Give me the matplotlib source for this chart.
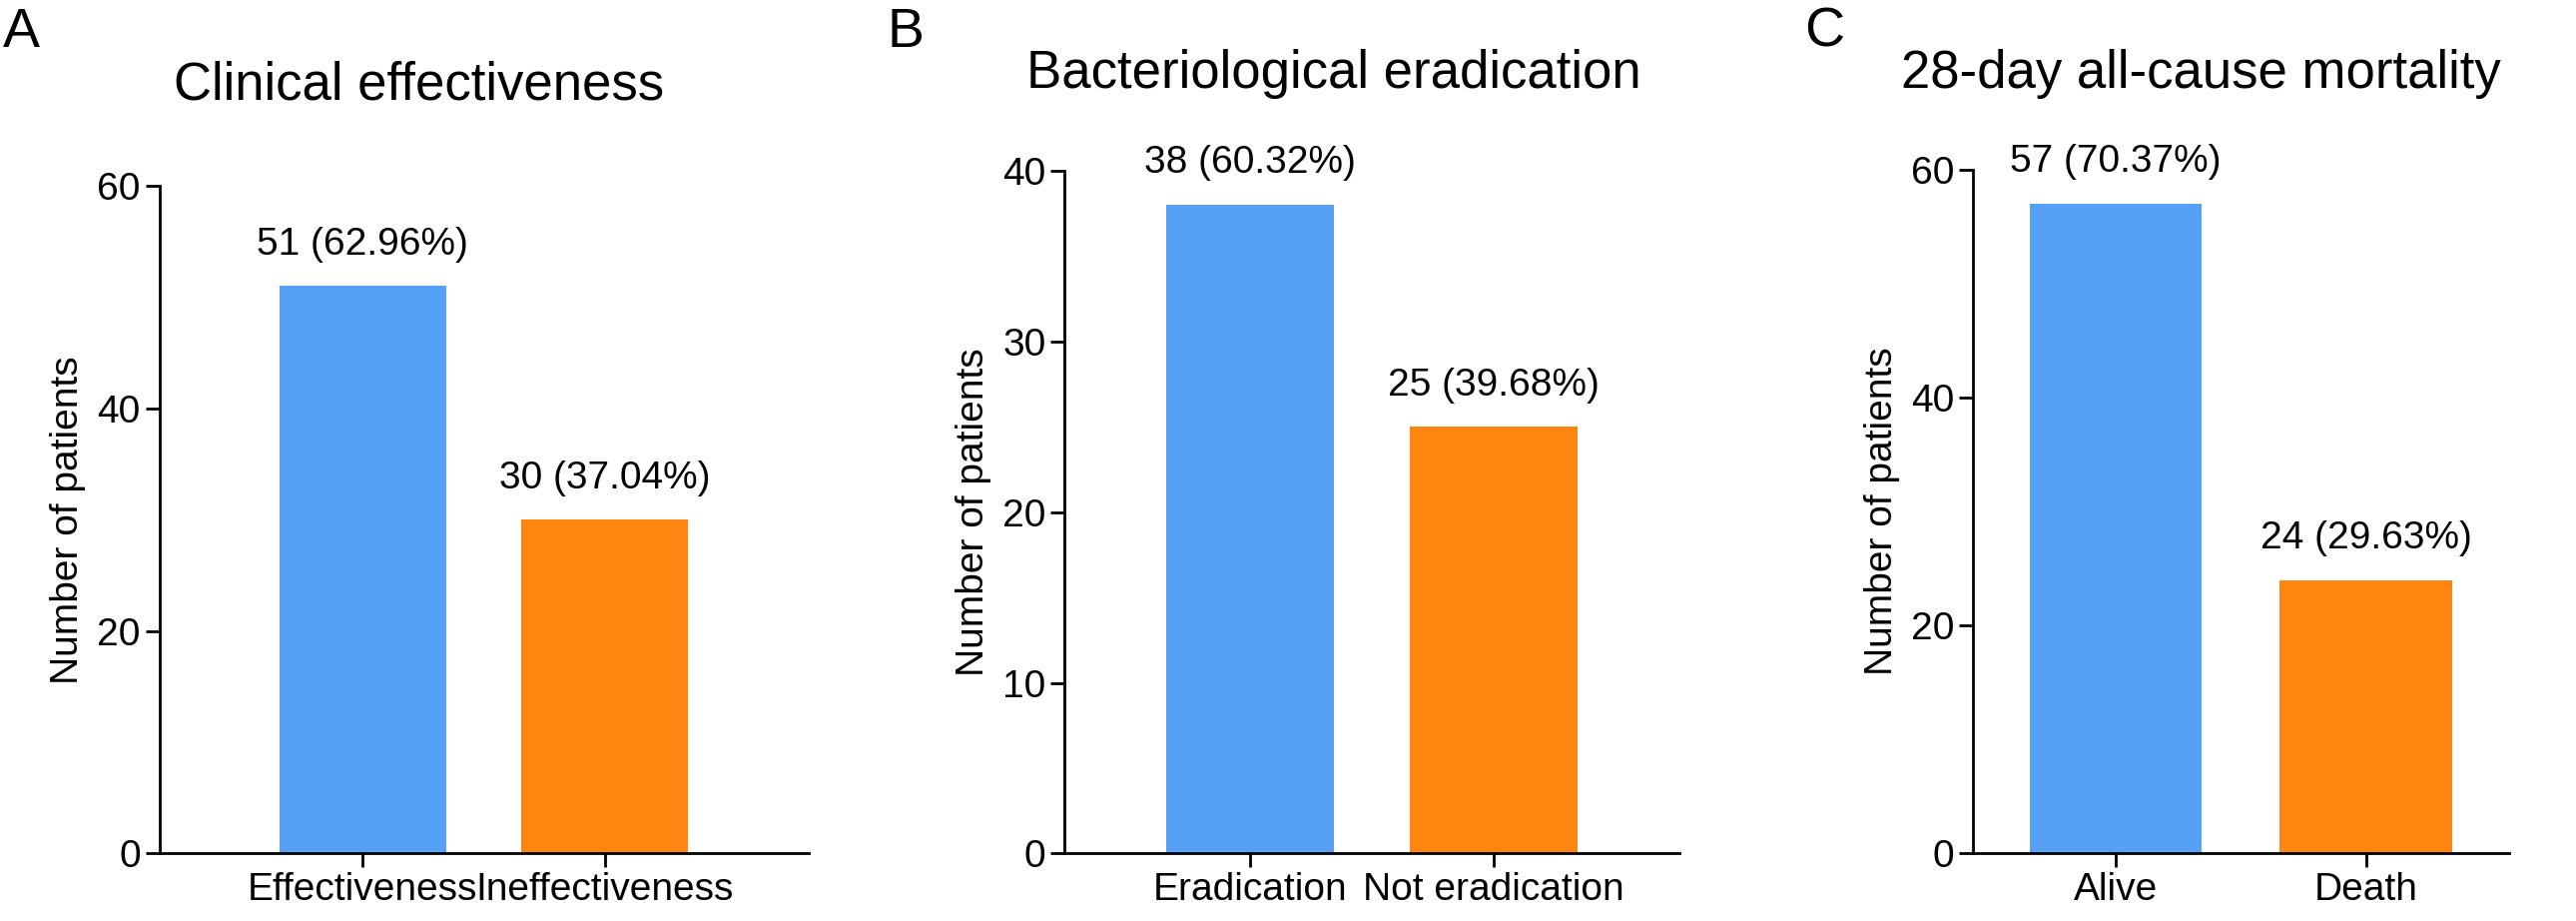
import matplotlib
matplotlib.use("Agg")
import matplotlib.pyplot as plt

plt.rcParams["font.family"] = "Liberation Sans"

titles = ["Clinical effectiveness", "Bacteriological eradication", "28-day all-cause mortality"]
cats = [["Effectiveness", "Ineffectiveness"], ["Eradication", "Not eradication"], ["Alive", "Death"]]
vals = [[51, 30], [38, 25], [57, 24]]
labels = [["51 (62.96%)", "30 (37.04%)"], ["38 (60.32%)", "25 (39.68%)"], ["57 (70.37%)", "24 (29.63%)"]]
ymax = [60, 40, 60]
yticks = [[0, 20, 40, 60], [0, 10, 20, 30, 40], [0, 20, 40, 60]]
letters = ["A", "B", "C"]

W, H = 1568, 560
fig = plt.figure(figsize=(25.8, 9.22), dpi=100)
geo = [(97, 492, 113, -0.84, 1.84), (648, 1022, 104, -0.76, 1.76), (1201, 1527, 103, -0.57, 1.57)]
title_x = [255, 812, 1340]
title_y = [52, 45, 45]
letter_x = [2, 540, 1098]
colors = ["#56A0F8", "#FF8511"]
for i in range(3):
    l, r, t, x0, x1 = geo[i]
    ax = fig.add_axes([l / W, 41 / H, (r - l) / W, (519 - t) / H])
    ax.bar([0, 1], vals[i], width=0.69, color=colors)
    ax.set_xlim(x0, x1)
    ax.set_ylim(0, ymax[i])
    ax.set_yticks(yticks[i])
    ax.set_xticks([0, 1])
    ax.set_xticklabels(cats[i])
    for s in ["top", "right"]:
        ax.spines[s].set_visible(False)
    for s in ["left", "bottom"]:
        ax.spines[s].set_linewidth(2)
    ax.tick_params(labelsize=28, width=2, length=10)
    ax.set_ylabel("Number of patients", fontsize=28, labelpad=8)
    for j in range(2):
        ax.text(j, vals[i][j] + ymax[i] * 0.035, labels[i][j], ha="center", va="bottom", fontsize=28)
    fig.text(title_x[i] / W, 1 - title_y[i] / H, titles[i], ha="center", va="center", fontsize=38)
    fig.text(letter_x[i] / W, 1 - 20 / H, letters[i], ha="left", va="center", fontsize=40)
fig.savefig("out.png", dpi=100)
